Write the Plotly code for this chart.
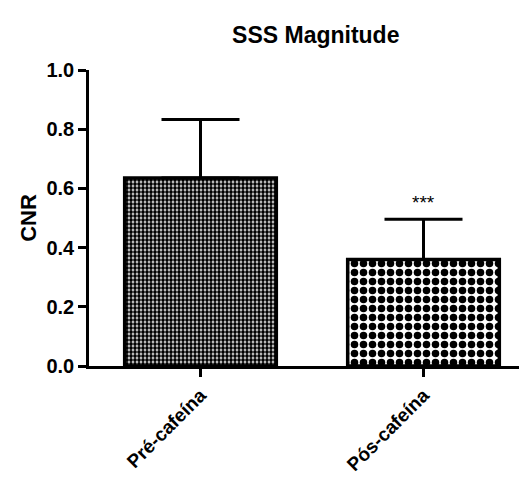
import plotly.graph_objects as go

# values
groups = ["Pré-cafeína", "Pós-cafeína"]
cnr_mean = [0.635, 0.36]
cnr_err = [0.198, 0.136]
sig_marks = ["", "***"]
y_ticks = [0.0, 0.2, 0.4, 0.6, 0.8, 1.0]

patterns = [
    dict(shape=".", size=4, solidity=0.7, fgcolor="black", bgcolor="white", fgopacity=1),
    dict(shape=".", size=9, solidity=0.55, fgcolor="black", bgcolor="white", fgopacity=1),
]

font_bold = "Liberation Sans, Arial, sans-serif"

fig = go.Figure()
for i, g in enumerate(groups):
    fig.add_trace(go.Bar(
        x=[g], y=[cnr_mean[i]],
        width=0.68,
        marker=dict(color="white", line=dict(color="black", width=3.5), pattern=patterns[i]),
        error_y=dict(type="data", symmetric=False, array=[cnr_err[i]], arrayminus=[0],
                     color="black", thickness=3, width=39),
        showlegend=False,
    ))
    if sig_marks[i]:
        # significance stars sit just above the error cap
        fig.add_annotation(x=g, y=cnr_mean[i] + cnr_err[i], text=sig_marks[i],
                           showarrow=False, yshift=17,
                           font=dict(size=19, color="black", family=font_bold))

fig.update_layout(
    width=527, height=483,
    margin=dict(l=81, r=0, t=62, b=125),
    plot_bgcolor="white", paper_bgcolor="white",
    title=dict(text="<b>SSS Magnitude</b>", x=0.584, xanchor="center", y=0.944, yanchor="middle",
               font=dict(size=23, color="black", family=font_bold)),
)
fig.update_xaxes(
    range=[-0.5, 1.5], showline=True, linecolor="black", linewidth=2.5,
    ticks="outside", ticklen=8, tickwidth=2.5, tickcolor="black",
    tickangle=-45, tickfont=dict(size=19, color="black", family=font_bold),
    tickvals=groups, ticktext=["<b>%s</b>" % g for g in groups],
    showgrid=False, zeroline=False,
)
fig.update_yaxes(
    range=[0, 1.0], showline=True, linecolor="black", linewidth=2.5,
    ticks="outside", ticklen=8, tickwidth=2.5, tickcolor="black",
    tickvals=y_ticks, ticktext=["<b>%.1f</b>" % v for v in y_ticks],
    tickfont=dict(size=20, color="black", family=font_bold),
    title=dict(text="<b>CNR</b>", font=dict(size=22, color="black", family=font_bold), standoff=4),
    showgrid=False, zeroline=False,
)

fig.write_html("out.html")
